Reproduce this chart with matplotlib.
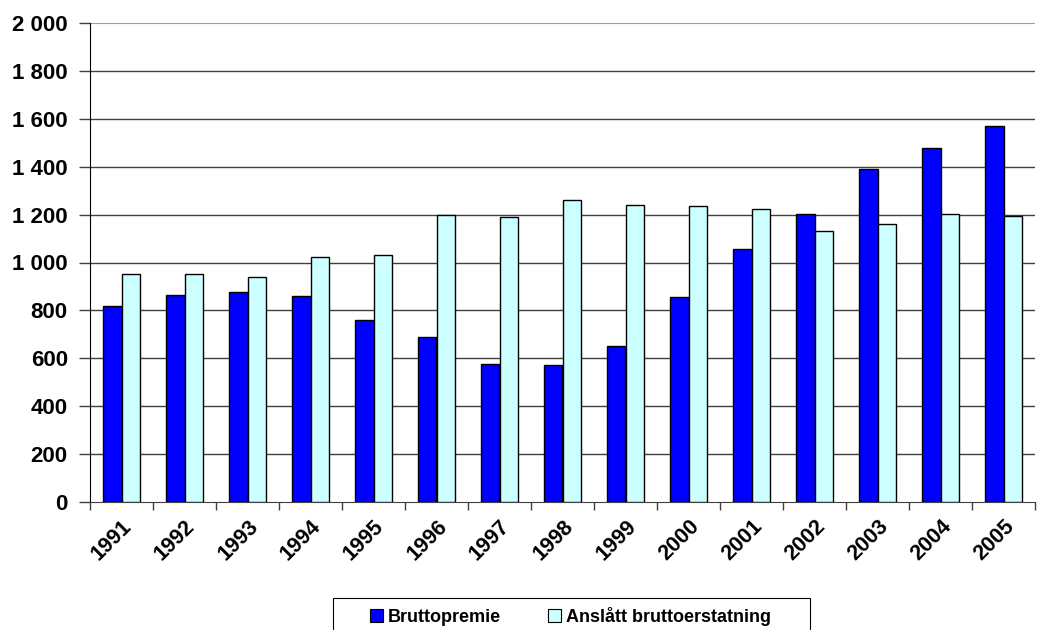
import matplotlib
matplotlib.use("Agg")
import matplotlib.pyplot as plt
import numpy as np
from matplotlib.patches import Patch, Rectangle

years = ["1991", "1992", "1993", "1994", "1995", "1996", "1997", "1998",
         "1999", "2000", "2001", "2002", "2003", "2004", "2005"]
bruttopremie = [820, 866, 877, 859, 760, 689, 578, 573, 652, 857, 1055, 1204, 1391, 1477, 1568]
erstatning = [953, 951, 940, 1024, 1033, 1198, 1188, 1259, 1238, 1236, 1223, 1131, 1159, 1204, 1194]
series_names = ["Bruttopremie", "Anslått bruttoerstatning"]
colors = ["#0000FF", "#CCFFFF"]
yticks = [0, 200, 400, 600, 800, 1000, 1200, 1400, 1600, 1800, 2000]

plt.rcParams['font.family'] = ['Liberation Sans', 'DejaVu Sans']
plt.rcParams['font.weight'] = 'bold'

W, H = 1038, 630
fig = plt.figure(figsize=(W/100, H/100), dpi=100)
ax = fig.add_axes([90/W, 1-502.3/H, (1035-90)/W, (502.3-22.7)/H])

x = np.arange(len(years))
w = 0.294
ax.bar(x - w/2, bruttopremie, width=w, color=colors[0], edgecolor="black", linewidth=1.0, zorder=3)
ax.bar(x + w/2, erstatning, width=w, color=colors[1], edgecolor="black", linewidth=1.0, zorder=3)

ax.set_xlim(-0.5, len(years) - 0.5)
ax.set_ylim(0, 2000)
ax.set_yticks(yticks)
ax.set_yticklabels([f"{v:,}".replace(",", " ") for v in yticks], fontsize=16, fontweight='bold')
ax.set_xticks(x)
ax.set_xticklabels(years, rotation=45, ha='right', rotation_mode='anchor', fontsize=15.5, fontweight='bold')
ax.tick_params(axis='x', which='major', length=0, pad=10)
ax.set_xticks(np.arange(-0.5, len(years)), minor=True)
ax.tick_params(axis='x', which='minor', length=6, width=1, color='#404040')
ax.tick_params(axis='y', length=8, width=1, color='#404040', pad=8)

for v in yticks[1:-1]:
    ax.axhline(v, color='#404040', linewidth=1.0, zorder=1)
ax.axhline(2000, color='#a0a0a0', linewidth=1.5, zorder=1)

for s in ['top', 'right']:
    ax.spines[s].set_visible(False)
ax.spines['left'].set_color('black')
ax.spines['bottom'].set_color('#404040')

# legend frame
fig.patches.append(Rectangle((333/W, 1-640/H), (810-333)/W, (640-598)/H,
                             transform=fig.transFigure, facecolor='white',
                             edgecolor='black', linewidth=0.8, zorder=0))
handles = [Patch(facecolor=colors[0], edgecolor='black', linewidth=0.8),
           Patch(facecolor=colors[1], edgecolor='black', linewidth=0.8)]
leg = fig.legend(handles, series_names, loc='center left',
                 bbox_to_anchor=(370/W, 1-616/H),
                 ncol=2, frameon=False,
                 prop={'weight': 'bold', 'size': 13},
                 handlelength=0.7, handleheight=0.7, handletextpad=0.3,
                 borderaxespad=0, borderpad=0, columnspacing=2.6)

fig.savefig("out.png", dpi=100)
